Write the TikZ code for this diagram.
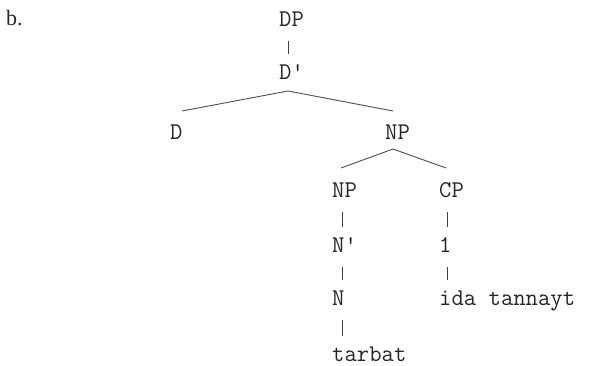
\documentclass[tikz,border=0pt]{standalone}
\usepackage{fontspec}
\setmainfont{Liberation Serif}
\begin{document}
\begin{tikzpicture}[x=1pt,y=-1pt,
  lbl/.style={inner sep=0pt,anchor=base west,font=\ttfamily\fontsize{24}{24}\selectfont,text=black!85},
  edge/.style={line width=0.9pt,draw=black!70},
  bar/.style={line width=0.8pt,draw=black!75}]
\useasboundingbox (0,0) rectangle (602,365);
\node[inner sep=0pt,anchor=base west,font=\fontsize{22}{22}\selectfont,text=black!85] (b) at (6,25) {b.};
\node[lbl] (DP) at (279,26) {DP};
\node[lbl] (Dbar) at (279,79) {D'};
\node[lbl] (D) at (170,139) {D};
\node[lbl] (NPa) at (385,139) {NP};
\node[lbl] (NPb) at (332,197) {NP};
\node[lbl] (CP) at (439,197) {CP};
\node[lbl] (Nbar) at (332,252) {N'};
\node[lbl] (one) at (439,252) {1};
\node[lbl] (N) at (332,305) {N};
\node[lbl] (ida) at (439,305) {ida tannayt};
\node[lbl] (tarbat) at (332,361) {tarbat};
% vertical bars
\draw[bar] ([shift={(9,15)}]DP.base west) -- ([shift={(9,-25)}]Dbar.base west);
\draw[bar] ([shift={(10,15)}]NPb.base west) -- ([shift={(10,-25)}]Nbar.base west);
\draw[bar] ([shift={(10,15)}]Nbar.base west) -- ([shift={(10,-25)}]N.base west);
\draw[bar] ([shift={(10,15)}]N.base west) -- ([shift={(10,-25)}]tarbat.base west);
\draw[bar] ([shift={(8,15)}]CP.base west) -- ([shift={(8,-25)}]one.base west);
\draw[bar] ([shift={(8,15)}]one.base west) -- ([shift={(8,-25)}]ida.base west);
% branches
\draw[edge] ([shift={(9,12)}]Dbar.base west) -- ([shift={(12,-28)}]D.base west);
\draw[edge] ([shift={(9,12)}]Dbar.base west) -- ([shift={(8,-28)}]NPa.base west);
\draw[edge] ([shift={(8,10)}]NPa.base west) -- ([shift={(9,-29)}]NPb.base west);
\draw[edge] ([shift={(8,10)}]NPa.base west) -- ([shift={(7,-29)}]CP.base west);
\end{tikzpicture}
\end{document}
